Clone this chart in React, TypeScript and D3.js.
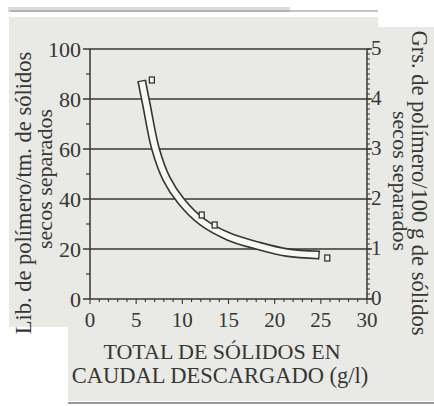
import React from 'react';
import * as d3 from 'd3';

const xTicks = [0, 5, 10, 15, 20, 25, 30];
const leftTicks = [0, 20, 40, 60, 80, 100];
const rightTicks = [0, 1, 2, 3, 4, 5];
const pointX = [6.7, 12.1, 13.5, 25.7];
const pointY = [87.6, 33.6, 29.6, 16.4];
const bandX = [5.6, 6.1, 7.1, 8.3, 9.9, 12.1, 15.0, 18.1, 21.3, 24.8];
const bandY = [87.2, 78, 60, 48, 39, 31, 25, 21.4, 18.6, 17.6];

const INK = '#363634';
const PAPER = '#e9e9e5';
const FONT = '"Liberation Serif", "Times New Roman", serif';

export default function App() {
  const W = 434, H = 406;
  const x = d3.scaleLinear().domain([0, 30]).range([90, 367]);
  const y = d3.scaleLinear().domain([0, 100]).range([299, 49]);
  const yR = d3.scaleLinear().domain([0, 5]).range([299, 49]);

  const pts: [number, number][] = bandX.map((v, i) => [x(v), y(bandY[i])]);
  const line = d3.line<[number, number]>().x(d => d[0]).y(d => d[1]).curve(d3.curveCatmullRom.alpha(0.5));
  const bandPath = line(pts) || '';
  const outerW = 9, innerW = 5.8;

  const cap = (a: [number, number], b: [number, number]) => {
    const dx = b[0] - a[0], dy = b[1] - a[1];
    const len = Math.hypot(dx, dy) || 1;
    const nx = -dy / len, ny = dx / len;
    const h = outerW / 2;
    return { x1: a[0] + nx * h, y1: a[1] + ny * h, x2: a[0] - nx * h, y2: a[1] - ny * h };
  };
  const c0 = cap(pts[0], pts[1]);
  const c1 = cap(pts[pts.length - 1], pts[pts.length - 2]);

  const minorX = d3.range(0, 31, 1);
  const minorLeft = d3.range(10, 100, 20);
  const minorRight = d3.range(0, 50.01, 1).map(v => v / 10);

  return (
    <svg width={W} height={H} style={{ position: 'absolute', left: 0, top: 0, background: '#fff' }}
      fontFamily={FONT}>
      {/* paper */}
      <rect x={0} y={0} width={W} height={H} fill="#ffffff" />
      <rect x={8} y={7} width={282} height={5} fill="#dcdcd8" />
      <line x1={10} x2={378} y1={11} y2={11} stroke="#8a8a86" strokeWidth={1.2} />
      <rect x={9} y={17} width={369} height={310} fill={PAPER} />
      <rect x={378} y={27} width={56} height={300} fill={PAPER} />
      <rect x={12} y={300} width={60} height={25} fill={PAPER} />
      <rect x={68} y={320} width={366} height={81} fill={PAPER} />
      <line x1={68} x2={434} y1={403} y2={403} stroke="#777" strokeWidth={1.4} />

      {/* grid & frame */}
      {leftTicks.map(t => (
        <line key={'g' + t} x1={83} x2={372} y1={y(t)} y2={y(t)} stroke={INK} strokeWidth={1.4} />
      ))}
      <line x1={x(0)} x2={x(0)} y1={y(0)} y2={y(100)} stroke={INK} strokeWidth={1.5} />
      <line x1={x(30)} x2={x(30)} y1={y(0)} y2={y(100)} stroke={INK} strokeWidth={1.5} />
      {minorLeft.map(t => (
        <line key={'ml' + t} x1={86} x2={x(0)} y1={y(t)} y2={y(t)} stroke={INK} strokeWidth={1.2} />
      ))}
      {minorX.map(t => (
        <line key={'mx' + t} x1={x(t)} x2={x(t)} y1={y(0)} y2={y(0) + (t % 5 === 0 ? 5 : 3)} stroke={INK} strokeWidth={1.1} />
      ))}
      {minorRight.map(t => (
        <line key={'mr' + t} x1={x(30)} x2={x(30) + 3} y1={yR(t)} y2={yR(t)} stroke={INK} strokeWidth={1} />
      ))}

      {/* band */}
      <path d={bandPath} fill="none" stroke={INK} strokeWidth={outerW} strokeLinecap="butt" />
      <path d={bandPath} fill="none" stroke="#f7f7f4" strokeWidth={innerW} strokeLinecap="butt" />
      <line {...c0} stroke={INK} strokeWidth={1.4} />
      <line {...c1} stroke={INK} strokeWidth={1.4} />

      {/* points */}
      {pointX.map((v, i) => (
        <rect key={'p' + i} x={x(v) - 2.5} y={y(pointY[i]) - 3} width={5} height={6}
          fill="#f4f4f0" stroke={INK} strokeWidth={1.3} />
      ))}

      {/* tick labels */}
      {leftTicks.map(t => (
        <text key={'lt' + t} x={81} y={y(t)} dy="0.35em" textAnchor="end" fontSize={22} fill={INK}>{t}</text>
      ))}
      {rightTicks.map(t => (
        <text key={'rt' + t} x={371} y={yR(t) - 1} dy="0.35em" textAnchor="start" fontSize={21} fill={INK}>{t}</text>
      ))}
      {xTicks.map(t => (
        <text key={'xt' + t} x={x(t)} y={327} textAnchor="middle" fontSize={21} fill={INK}>{t}</text>
      ))}

      {/* axis titles */}
      <text x={222} y={359} textAnchor="middle" fontSize={22} fill={INK}>TOTAL DE SÓLIDOS EN</text>
      <text x={220} y={383} textAnchor="middle" fontSize={22.5} fill={INK}>CAUDAL DESCARGADO (g/l)</text>

      <text transform={`translate(31,193) rotate(-90)`} textAnchor="middle" fontSize={22.5} fill={INK}>Lib. de polímero/tm. de sólidos</text>
      <text transform={`translate(52,179) rotate(-90)`} textAnchor="middle" fontSize={22} fill={INK}>secos separados</text>

      <text transform={`translate(412,183) rotate(90)`} textAnchor="middle" fontSize={22.5} fill={INK}>Grs. de polímero/100 g de sólidos</text>
      <text transform={`translate(393,181) rotate(90)`} textAnchor="middle" fontSize={22} fill={INK}>secos separados</text>
    </svg>
  );
}
